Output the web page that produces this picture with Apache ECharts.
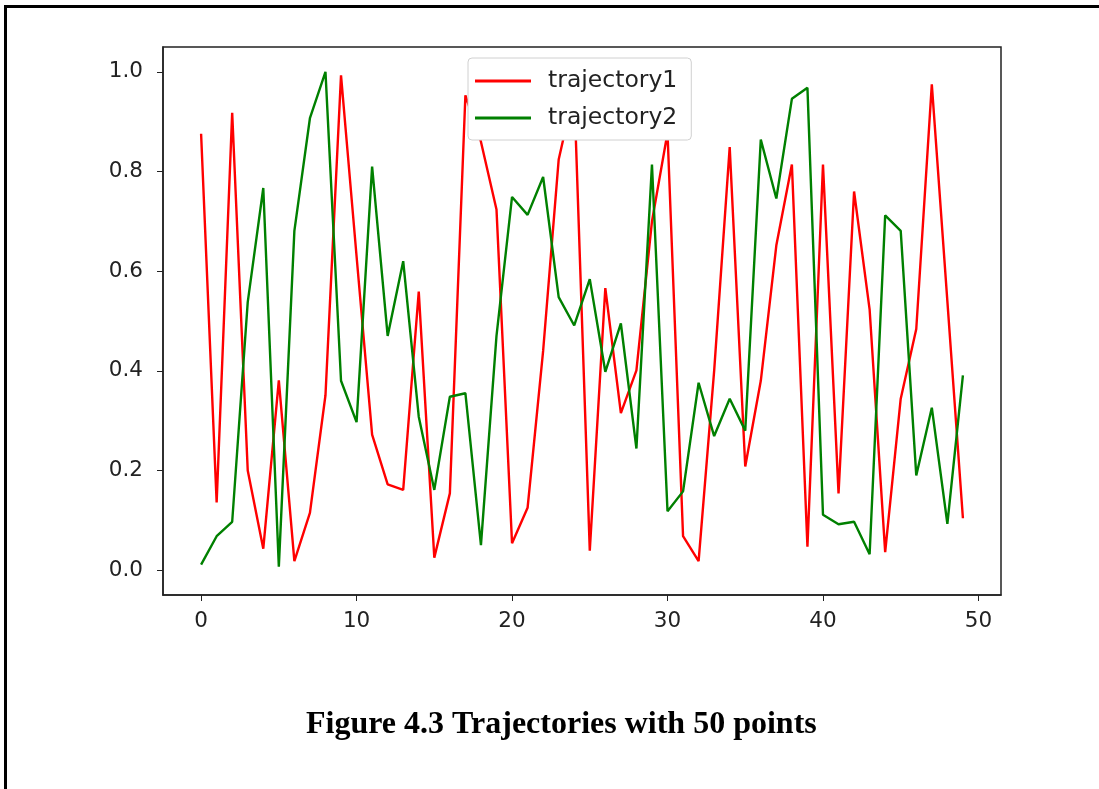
<!DOCTYPE html>
<html>
<head>
<meta charset="utf-8">
<script src="https://cdn.jsdelivr.net/npm/echarts@6/dist/echarts.min.js"></script>
<style>
  html, body { margin: 0; padding: 0; background: #fff; }
  #frame {
    position: absolute; left: 4px; top: 5px; width: 1095px; height: 784px;
    border-left: 3px solid #000; border-top: 3px solid #000;
    box-sizing: border-box;
  }
  #main { position: absolute; left: 0; top: 0; width: 1099px; height: 789px; }
</style>
</head>
<body>
<div id="frame"></div>
<div id="main"></div>
<script>
// 50 steps
var steps = [];
for (var i = 0; i < 50; i++) steps.push(i);

var trajectory1 = [
  0.876, 0.136, 0.918, 0.200, 0.043, 0.381, 0.018, 0.115, 0.351, 0.993,
  0.630, 0.272, 0.172, 0.161, 0.559, 0.025, 0.154, 0.953, 0.860, 0.724,
  0.054, 0.125, 0.440, 0.824, 0.962, 0.039, 0.566, 0.315, 0.401, 0.700,
  0.878, 0.068, 0.018, 0.400, 0.849, 0.208, 0.380, 0.652, 0.814, 0.047,
  0.814, 0.154, 0.760, 0.523, 0.036, 0.344, 0.484, 0.975, 0.540, 0.104
];
var trajectory2 = [
  0.011, 0.068, 0.097, 0.538, 0.767, 0.007, 0.681, 0.907, 1.000, 0.380,
  0.297, 0.810, 0.470, 0.620, 0.308, 0.161, 0.348, 0.355, 0.050, 0.470,
  0.749, 0.713, 0.789, 0.548, 0.491, 0.584, 0.398, 0.495, 0.244, 0.814,
  0.118, 0.158, 0.376, 0.269, 0.344, 0.280, 0.864, 0.746, 0.946, 0.968,
  0.111, 0.092, 0.097, 0.032, 0.712, 0.681, 0.190, 0.326, 0.093, 0.391
];
var xTicks = [0, 10, 20, 30, 40, 50];
var yTicks = [0, 0.2, 0.4, 0.6, 0.8, 1.0];

function pairs(ys) {
  return ys.map(function (v, i) { return [steps[i], v]; });
}

var myChart = echarts.init(document.getElementById("main"));

var option = {
  animation: false,
  title: {
    text: "Figure 4.3 Trajectories with 50 points",
    left: 301,
    top: 704,
    textStyle: {
      fontFamily: "Liberation Serif",
      fontWeight: "bold",
      fontSize: 32,
      color: "#000"
    }
  },
  legend: {
    left: 468,
    top: 58,
    orient: "vertical",
    padding: [10, 14, 9, 7],
    itemGap: 11,
    itemWidth: 56,
    itemHeight: 26,
    backgroundColor: "#fff",
    borderColor: "#d0d0d0",
    borderWidth: 1,
    borderRadius: 4,
    textStyle: {
      fontFamily: "DejaVu Sans",
      fontSize: 23.5,
      lineHeight: 26,
      color: "#222",
      padding: [0, 0, 0, 12]
    },
    data: [
      { name: "trajectory1", icon: "path://M0,0 L56,0 L56,3 L0,3 Z" },
      { name: "trajectory2", icon: "path://M0,0 L56,0 L56,3 L0,3 Z" }
    ]
  },
  grid: {
    left: 163,
    top: 47,
    width: 838,
    height: 548,
    show: true,
    borderColor: "#222",
    borderWidth: 1.5,
    containLabel: false
  },
  xAxis: {
    type: "value",
    min: -2.45,
    max: 51.45,
    splitLine: { show: false },
    axisLine: { show: true, onZero: false, lineStyle: { color: "#222", width: 1.5 } },
    axisTick: { show: true, length: 6, customValues: xTicks, lineStyle: { color: "#222" } },
    axisLabel: {
      customValues: xTicks,
      fontFamily: "DejaVu Sans",
      fontSize: 21.5,
      color: "#222",
      margin: 15
    }
  },
  yAxis: {
    type: "value",
    min: -0.05,
    max: 1.05,
    splitLine: { show: false },
    axisLine: { show: true, onZero: false, lineStyle: { color: "#222", width: 1.5 } },
    axisTick: { show: true, length: 6, customValues: yTicks, lineStyle: { color: "#222" } },
    axisLabel: {
      customValues: yTicks,
      fontFamily: "DejaVu Sans",
      fontSize: 21.5,
      color: "#222",
      margin: 20,
      formatter: function (v) { return v.toFixed(1); }
    }
  },
  series: [
    {
      name: "trajectory1",
      type: "line",
      data: pairs(trajectory1),
      showSymbol: false,
      color: "#ff0000",
      lineStyle: { color: "#ff0000", width: 2.4 },
      z: 2
    },
    {
      name: "trajectory2",
      type: "line",
      data: pairs(trajectory2),
      showSymbol: false,
      color: "#008000",
      lineStyle: { color: "#008000", width: 2.4 },
      z: 3
    }
  ]
};

myChart.setOption(option);
</script>
</body>
</html>
